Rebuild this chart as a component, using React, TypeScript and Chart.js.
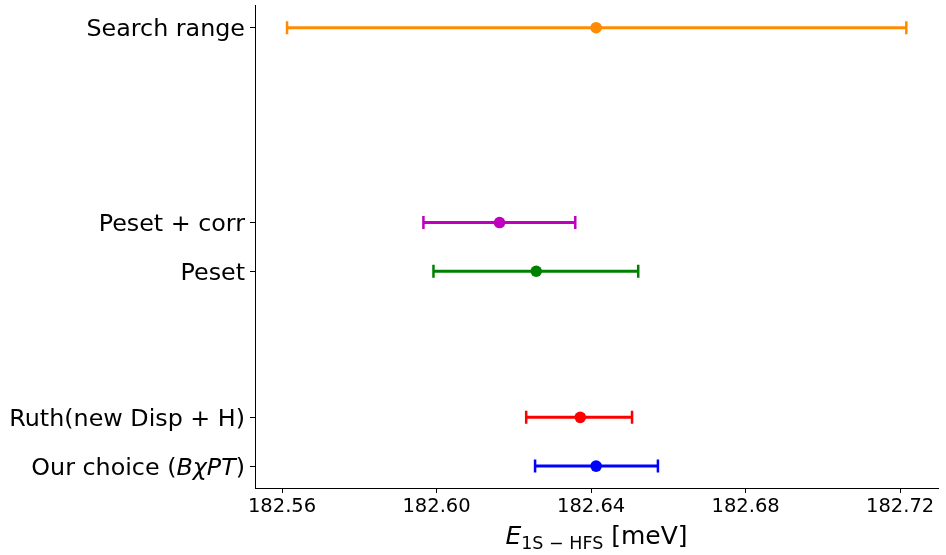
import React, { useEffect, useRef } from "react";
import { Chart, registerables } from "chart.js";

Chart.register(...registerables);

const labels = ["Our choice (BχPT)", "Ruth(new Disp + H)", "Peset", "Peset + corr", "Search range"];
const yPos = [0, 1, 4, 5, 9];
const centers = [182.6413, 182.6372, 182.6258, 182.6163, 182.6413];
const lows = [182.6255, 182.6232, 182.5992, 182.5966, 182.5613];
const highs = [182.6573, 182.6506, 182.6522, 182.6359, 182.7216];
const colors = ["#0000ff", "#ff0000", "#008000", "#bf00bf", "#ff8c00"];
const xTicks = [182.56, 182.6, 182.64, 182.68, 182.72];

const errorBarPlugin = {
  id: "errbars",
  beforeDatasetsDraw(chart: any) {
    const ctx = chart.ctx;
    const xs = chart.scales.x;
    const ys = chart.scales.y;
    ctx.save();
    for (let i = 0; i < yPos.length; i++) {
      const y = ys.getPixelForValue(yPos[i]);
      const x0 = xs.getPixelForValue(lows[i]);
      const x1 = xs.getPixelForValue(highs[i]);
      ctx.strokeStyle = colors[i];
      ctx.lineWidth = 3;
      ctx.lineCap = "butt";
      ctx.beginPath();
      ctx.moveTo(x0, y);
      ctx.lineTo(x1, y);
      ctx.stroke();
      ctx.lineWidth = 2.5;
      ctx.beginPath();
      ctx.moveTo(x0, y - 6.5);
      ctx.lineTo(x0, y + 6.5);
      ctx.moveTo(x1, y - 6.5);
      ctx.lineTo(x1, y + 6.5);
      ctx.stroke();
    }
    ctx.restore();
  },
  afterDraw(chart: any) {
    const ctx = chart.ctx;
    const xs = chart.scales.x;
    const ys = chart.scales.y;
    ctx.save();
    ctx.fillStyle = "#000";
    ctx.textBaseline = "alphabetic";
    const f = "23.8px 'DejaVu Sans'";
    const fi = "italic 23.8px 'DejaVu Sans'";
    for (let i = 0; i < yPos.length; i++) {
      const y = ys.getPixelForValue(yPos[i]) + 8.5;
      const right = xs.left - 10;
      let parts: [string, string][];
      if (i === 0) parts = [["Our choice (", f], ["BχPT", fi], [")", f]];
      else parts = [[labels[i], f]];
      let w = 0;
      for (const [t, ff] of parts) { ctx.font = ff; w += ctx.measureText(t).width; }
      let x = right - w;
      ctx.textAlign = "left";
      for (const [t, ff] of parts) { ctx.font = ff; ctx.fillText(t, x, y); x += ctx.measureText(t).width; }
    }
    const tparts: [string, string, number][] = [
      ["E", "italic 25px 'DejaVu Sans'", 0],
      ["1S − HFS", "17.5px 'DejaVu Sans'", 5],
      [" [meV]", "25px 'DejaVu Sans'", 0],
    ];
    let tw = 0;
    for (const [t, ff] of tparts) { ctx.font = ff; tw += ctx.measureText(t).width; }
    let tx = (xs.left + xs.right) / 2 - tw / 2;
    const ty = 544;
    for (const [t, ff, dy] of tparts) { ctx.font = ff; ctx.fillText(t, tx, ty + dy); tx += ctx.measureText(t).width; }
    ctx.restore();
  },
};

export default function App() {
  const ref = useRef<HTMLCanvasElement>(null);
  useEffect(() => {
    document.body.style.margin = "0";
    const datasets = yPos.map((y, i) => ({
      label: labels[i],
      data: [{ x: centers[i], y }],
      backgroundColor: colors[i],
      borderColor: colors[i],
      pointRadius: 5.8,
      pointBorderWidth: 0,
      showLine: false,
    }));
    const chart = new Chart(ref.current as HTMLCanvasElement, {
      type: "scatter",
      data: { datasets },
      options: {
        animation: false,
        responsive: false,
        layout: { padding: { top: 5, right: 8, left: 0, bottom: 0 } },
        plugins: { legend: { display: false }, tooltip: { enabled: false } },
        scales: {
          x: {
            type: "linear",
            min: 182.553,
            max: 182.7298,
            afterBuildTicks: (s: any) => { s.ticks = xTicks.map((v) => ({ value: v })); },
            afterFit: (s: any) => { s.height = 67; },
            ticks: {
              callback: (v: any) => Number(v).toFixed(2),
              color: "#000",
              font: { family: "'DejaVu Sans'", size: 19.5 },
              maxRotation: 0,
              padding: 2,
            },
            grid: { drawOnChartArea: false, drawTicks: true, tickLength: 5, color: "#000", tickWidth: 1 },
            border: { display: true, color: "#000", width: 1 },
          },
          y: {
            type: "linear",
            min: -0.45,
            max: 9.45,
            afterBuildTicks: (s: any) => { s.ticks = yPos.map((v) => ({ value: v })); },
            afterFit: (s: any) => { s.width = 255; s.paddingTop = 0; s.paddingBottom = 0; },
            ticks: { display: true, color: "rgba(0,0,0,0)", callback: () => "", font: { size: 1 }, padding: 0 },
            grid: { drawOnChartArea: false, drawTicks: true, tickLength: 5, color: "#000", tickWidth: 1 },
            border: { display: true, color: "#000", width: 1 },
          },
        },
      },
      plugins: [errorBarPlugin],
    });
    return () => chart.destroy();
  }, []);
  return (
    <div style={{ width: 946, height: 555 }}>
      <canvas ref={ref} width={946} height={555} style={{ display: "block" }} />
    </div>
  );
}
